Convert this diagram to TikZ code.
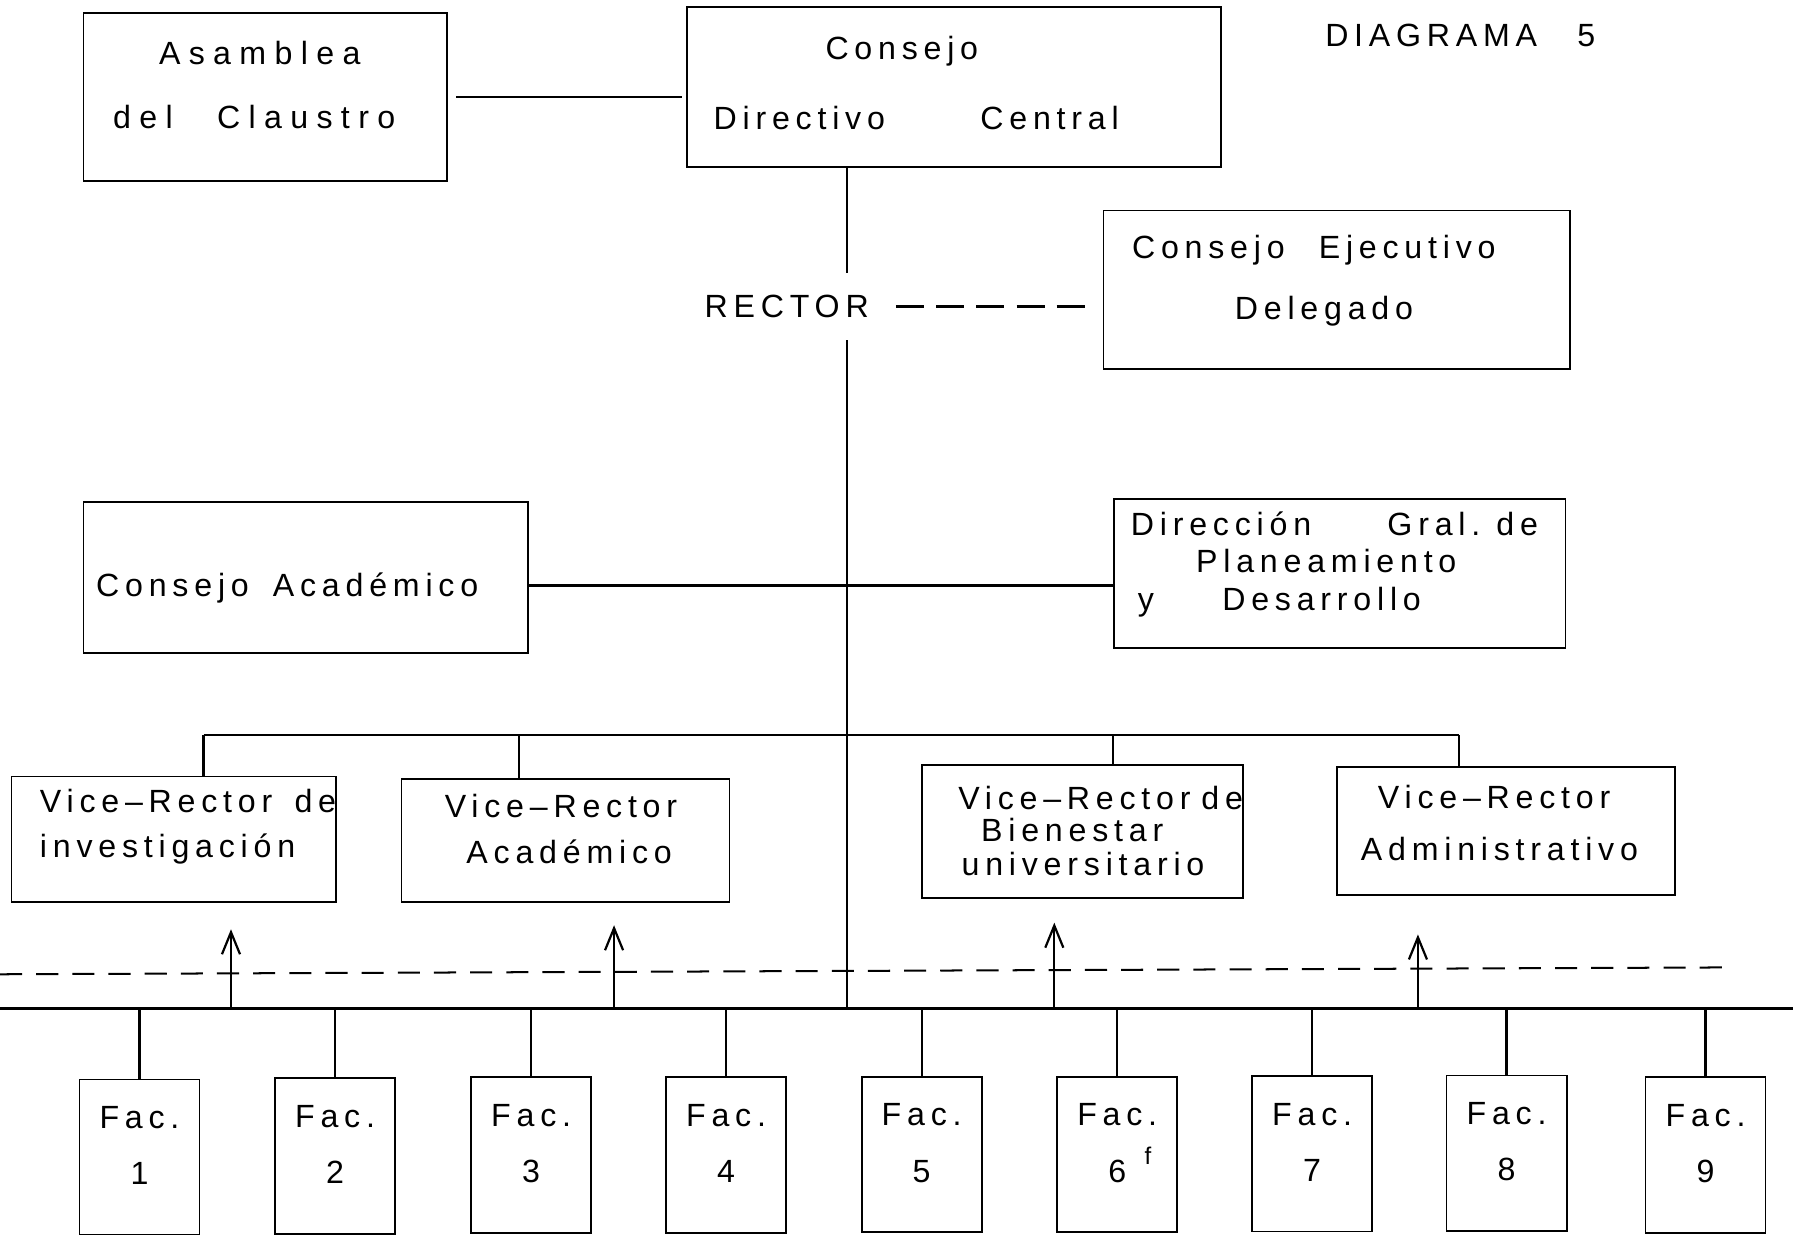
\documentclass[tikz,border=0pt]{standalone}
\usepackage{fontspec}
\setmainfont{Liberation Sans}[LetterSpace=18]
\usetikzlibrary{arrows.meta}
\newcommand{\hueco}[1]{\hspace{#1}}

\begin{document}
\begin{tikzpicture}[x=0.02cm, y=-0.02cm, >={Straight Barb[length=11pt,width=9pt]},
  texto/.style={font=\fontsize{16}{19.2}\selectfont},
  caja/.style={texto, draw, line width=0.9pt, inner xsep=0pt, align=left},
  fac/.style={caja, align=center, text width=2.1cm, minimum height=2.72cm, text depth=39.3pt},
  linea/.style={line width=1.1pt},
  gruesa/.style={line width=1.6pt},
  raya/.style={line width=1pt, dash pattern=on 11pt off 7pt}]
\useasboundingbox (0,0) rectangle (1568,1080);

\node[caja, text width=6.36cm, minimum height=2.94cm, text depth=43.9pt,
  font=\fontsize{16}{19.2}\selectfont\addfontfeature{LetterSpace=26}] (asamblea) at (232,84.5)
  {\hspace*{37.6pt}Asamblea\\[12.7pt]\hspace*{14.8pt}del\hueco{22pt}Claustro};
\node[caja, text width=9.34cm, minimum height=2.8cm, text depth=38.7pt] (cdc) at (834.5,76)
  {\hspace*{68.8pt}Consejo\\[15.5pt]\hspace*{13.1pt}Directivo\hfill Central\hspace*{51pt}\null};
\node[texto] (titulo) at (1277,31) {DIAGRAMA\hueco{20pt}5};
\node[texto, inner ysep=11pt] (rector) at (688,268) {RECTOR};
\node[caja, text width=8.16cm, minimum height=2.78cm, text depth=42.8pt] (ced) at (1169,253.5)
  {\hspace*{14.2pt}Consejo\hueco{17pt}Ejecutivo\\[11pt]\hspace*{65.4pt}Delegado};
\node[caja, text width=7.78cm, minimum height=2.64cm, text height=19pt, text depth=0pt] (ca) at (267.5,505)
  {\hspace*{6.3pt}Consejo\hueco{12pt}Académico};
\node[caja, text width=7.9cm, minimum height=2.62cm, text depth=49.5pt] (dir) at (1171.5,501.5)
  {\hspace*{8.5pt}Dirección\hueco{38pt}Gral.\hueco{8pt}de\\[-1pt]\hspace*{41pt}Planeamiento\\[0pt]\hspace*{12pt}y\hueco{34pt}Desarrollo};
\node[caja, text width=5.68cm, minimum height=2.2cm, text depth=38.8pt] (vr1) at (152,734)
  {\hspace*{14.2pt}Vice–Rector\hfill de\\[3.6pt]\hspace*{14.2pt}investigación};
\node[caja, text width=5.74cm, minimum height=2.16cm, text depth=34.2pt] (vr2) at (494.5,735)
  {\hspace*{21.6pt}Vice–Rector\\[3.6pt]\hspace*{32.4pt}Académico};
\node[caja, text width=5.62cm, minimum height=2.32cm] (vr3) at (946.5,727)
  {\hspace*{18.2pt}Vice–Rector\hfill de\\[-3.3pt]\hspace*{29.6pt}Bienestar\\[-2.2pt]\hspace*{19.9pt}universitario};
\node[caja, text width=5.92cm, minimum height=2.24cm, text depth=34.2pt] (vr4) at (1317,727)
  {\hspace*{20.5pt}Vice–Rector\\[6.4pt]\hspace*{12pt}Administrativo};

\foreach \x/\y [count=\i] in {122/1012,293/1011,464.5/1010,635/1010,806/1009.5,977/1009.5,1147.5/1009,1317.5/1008.5,1491.5/1010}
  \node[fac] (f\i) at (\x,\y) {Fac.\\[8.7pt]\i};
\node[font=\fontsize{12}{14}\selectfont] (marca) at (1004,1011) {f};

\coordinate (eje) at (741,0);
\coordinate (barra) at (0,882);
\coordinate (barrafin) at (1568,882);
\coordinate (r0) at (0,852);
\coordinate (r1) at (1512,846);
\coordinate (b1) at (178,643);
\coordinate (b2) at (454,643);
\coordinate (b3) at (973,643);
\coordinate (b4) at (1276,643);
\coordinate (a1) at (202,882);
\coordinate (a2) at (537,882);
\coordinate (a3) at (922,882);
\coordinate (a4) at (1240,882);

\draw[linea, shorten <=4pt, shorten >=2pt] (asamblea.east) -- (asamblea.east -| cdc.west);
\draw[linea] (eje |- cdc.south) -- (eje |- rector.north);
\draw[linea] (eje |- rector.south) -- (eje |- barra);
\draw[linea, dash pattern=on 14pt off 6pt, shorten <=10pt, shorten >=8pt] (rector.east) -- (rector.east -| ced.west);
\draw[linea] ([yshift=-4pt]ca.east) -- ([yshift=-4pt]ca.east -| dir.west);
\draw[linea] (b1) -- (b4);
\foreach \i in {1,...,4}
  \draw[linea] (b\i) -- (b\i |- vr\i.north);
\draw[raya] (r0) -- (r1);
\draw[gruesa] (barra) -- (barrafin);
\foreach \i/\s in {1/13pt,2/11pt,3/12pt,4/19pt}
  \draw[linea, ->, shorten >=\s] (a\i) -- (a\i |- vr\i.south);
\foreach \i in {1,...,9}
  \draw[linea] (f\i.north) -- (f\i.north |- barra);

\end{tikzpicture}
\end{document}
